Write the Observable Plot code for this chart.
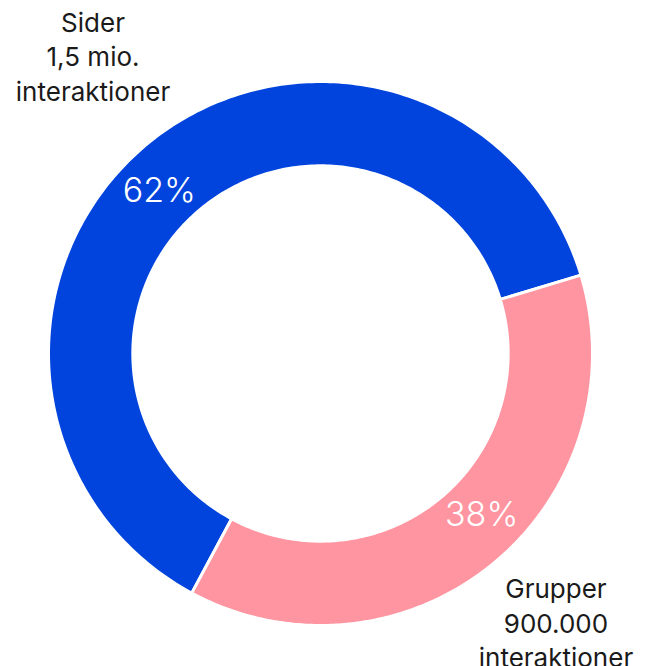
<!DOCTYPE html>
<html><head><meta charset="utf-8">
<script src="https://cdn.jsdelivr.net/npm/d3@7"></script>
<script src="https://cdn.jsdelivr.net/npm/@observablehq/plot@0.6"></script>
<style>body{margin:0;background:#fff}</style>
</head><body><div id="chart"></div>
<script>
const categories = ["Sider", "Grupper"];
const values = [1500000, 900000];
const percentLabels = ["62%", "38%"];
const outerLabels = ["Sider\n1,5 mio.\ninteraktioner", "Grupper\n900.000\ninteraktioner"];
const colors = ["#0044DD", "#FF95A0"];

const W = 654, H = 666, cx = 320, cy = 353, R = 272, inner = 0.69;
const startRad = 208.25 * Math.PI / 180;
const arcs = d3.pie().sort(null).startAngle(startRad).endAngle(startRad + 2 * Math.PI)(values);
const N = 240;
const ring = [];
arcs.forEach((a, i) => {
  const cat = categories[i];
  for (let k = 0; k <= N; k++) {
    const t = a.startAngle + (a.endAngle - a.startAngle) * k / N;
    ring.push({cat, x: Math.sin(t), y: Math.cos(t)});
  }
  for (let k = N; k >= 0; k--) {
    const t = a.startAngle + (a.endAngle - a.startAngle) * k / N;
    ring.push({cat, x: inner * Math.sin(t), y: inner * Math.cos(t)});
  }
});
const pctShift = -5.6 * Math.PI / 180;
const pctData = arcs.map((a, i) => {
  const m = (a.startAngle + a.endAngle) / 2 + pctShift;
  return {text: percentLabels[i], x: 0.84 * Math.sin(m), y: 0.84 * Math.cos(m)};
});
const outerData = arcs.map((a, i) => {
  const m = (a.startAngle + a.endAngle) / 2;
  return {text: outerLabels[i], x: 1.345 * Math.sin(m), y: 1.345 * Math.cos(m)};
});

const chart = Plot.plot({
  width: W, height: H, margin: 0,
  x: {domain: [-1, 1], range: [cx - R, cx + R], axis: null},
  y: {domain: [-1, 1], range: [cy + R, cy - R], axis: null},
  color: {domain: categories, range: colors},
  style: {fontFamily: "Inter, 'DejaVu Sans', sans-serif", background: "#fff"},
  marks: [
    Plot.line(ring, {x: "x", y: "y", z: "cat", fill: "cat", stroke: "white", strokeWidth: 3, curve: "linear-closed"}),
    Plot.text(pctData, {x: "x", y: "y", text: "text", fill: "white", fontSize: 34, fontWeight: 300}),
    Plot.text(outerData, {x: "x", y: "y", text: "text", fill: "#1a1a1a", fontSize: 26, lineHeight: 1.33, dx: 4, dy: -15})
  ]
});
document.getElementById("chart").appendChild(chart);
</script>
</body></html>
